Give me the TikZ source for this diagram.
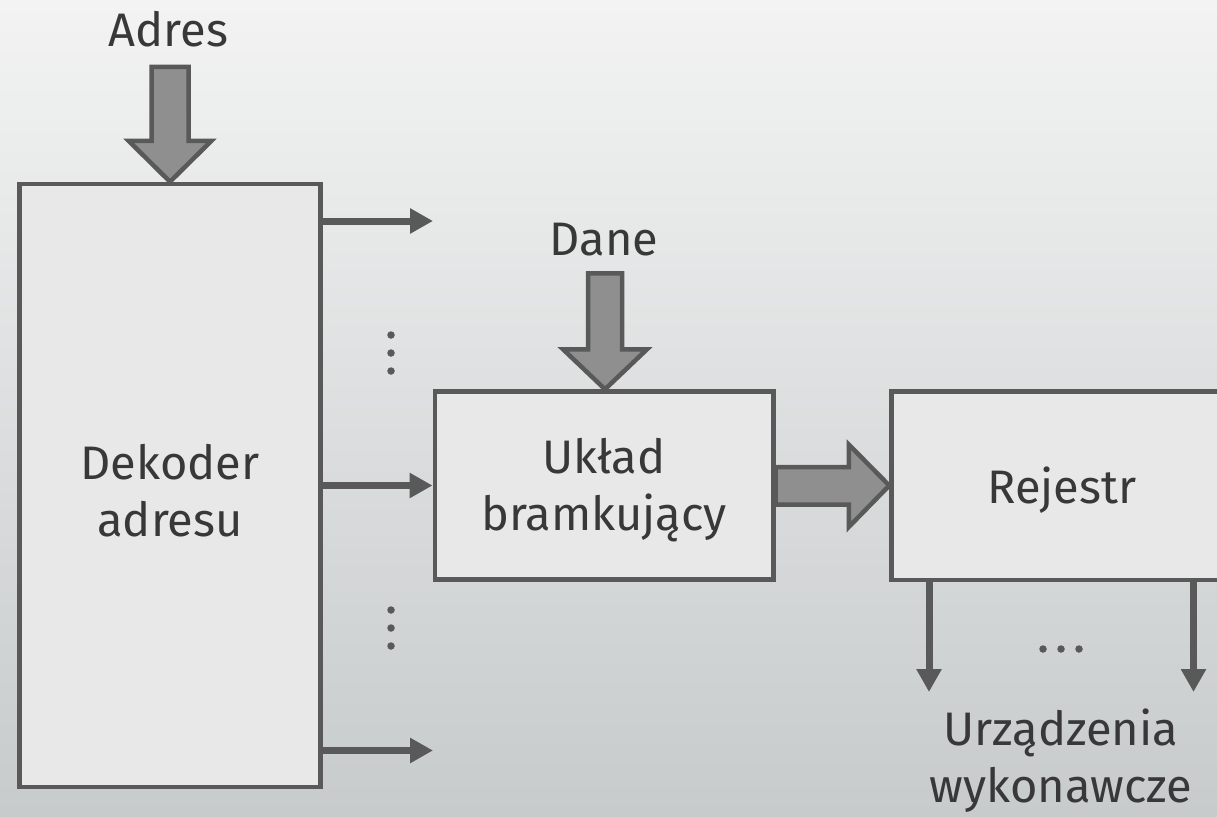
\documentclass[tikz,border=0pt]{standalone}
\usepackage{fontspec}
\setmainfont{Fira Sans}
\usetikzlibrary{arrows.meta,calc}
\definecolor{strokegray}{HTML}{595959}
\definecolor{boxfill}{HTML}{E8E8E8}
\definecolor{fatfill}{HTML}{8F8F8F}
\definecolor{txtgray}{HTML}{383838}
\definecolor{bgtop}{HTML}{F3F3F3}
\definecolor{bgmid}{HTML}{E6E7E7}
\definecolor{bgbot}{HTML}{C7CBCC}
\begin{document}
\begin{tikzpicture}[x=1pt,y=-1pt,
  every node/.style={text=txtgray,font=\fontsize{47}{57}\selectfont},
  blockbox/.style={draw=strokegray,fill=boxfill,line width=4.5pt,rectangle,inner sep=0pt},
  boxtext/.style={align=center,inner sep=0pt},
  fatarrow/.style={draw=strokegray,fill=fatfill,line width=4.5pt,line join=miter},
  thinarrow/.style={draw=strokegray,line width=7pt,-{Triangle[length=23pt,width=24pt]}},
  dotmark/.style={circle,fill=strokegray,inner sep=0pt,minimum size=7.5pt}]
\useasboundingbox (0,0) rectangle (1217,816);
\clip (0,0) rectangle (1217,816);
\shade[top color=bgtop,middle color=bgmid,bottom color=bgbot] (0,0) rectangle (1217,816);

% blocks
\node[blockbox,minimum width=301pt,minimum height=603pt] (dek) at (170,485.5) {};
\node[blockbox,minimum width=338.5pt,minimum height=188pt] (ukl) at (604,485.5) {};
\node[blockbox,minimum width=341pt,minimum height=188.5pt] (rej) at (1062,485.5) {};
\node[boxtext] (dektext) at ($(dek.center)+(0,5)$) {Dekoder\\adresu};
\node[boxtext] (ukltext) at ($(ukl.center)+(0,5)$) {Układ\\bramkujący};
\node[boxtext] (rejtext) at ($(rej.center)+(0,5)$) {Rejestr};

% labels
\node[anchor=base,inner sep=0pt] (adres) at (168.5,47) {Adres};
\node[anchor=base,inner sep=0pt] (dane) at (604,255) {Dane};
\node[anchor=north,inner sep=0pt,align=center] (urz) at (1061,709) {Urządzenia\\wykonawcze};

% fat arrows
\draw[fatarrow] (dek.north) -- ++(-41.5,-41) -- ++(23,0) -- ++(0,-74) -- ++(37,0) -- ++(0,74) -- ++(23,0) -- cycle;
\draw[fatarrow] ($(ukl.north)+(1,0)$) -- ++(-42,-40) -- ++(25,0) -- ++(0,-76) -- ++(34,0) -- ++(0,76) -- ++(25,0) -- cycle;
\draw[fatarrow] (rej.west) -- ++(-40.5,-41) -- ++(0,22.5) -- (ukl.east |- 0,467) -- (ukl.east |- 0,504.5) -- ($(rej.west)+(-40.5,19)$) -- ++(0,22.5) -- cycle;

% thin arrows from decoder
\coordinate (o1) at (433,221);
\coordinate (o3) at (433,750.5);
\draw[thinarrow] (dek.east |- o1) -- (o1);
\draw[thinarrow] (dek.east) -- (ukl.west);
\draw[thinarrow] (dek.east |- o3) -- (o3);

% outputs of register
\coordinate (d1) at (929,692);
\coordinate (d2) at (1193.5,692);
\draw[thinarrow] (rej.south -| d1) -- (d1);
\draw[thinarrow] (rej.south -| d2) -- (d2);

% dots
\node[dotmark] (v1) at (391,335) {};
\node[dotmark] (v2) at (391,353) {};
\node[dotmark] (v3) at (391,371) {};
\node[dotmark] (w1) at (391,610) {};
\node[dotmark] (w2) at (391,628) {};
\node[dotmark] (w3) at (391,646) {};
\node[dotmark] (h1) at (1043,649) {};
\node[dotmark] (h2) at (1061,649) {};
\node[dotmark] (h3) at (1079,649) {};
\end{tikzpicture}
\end{document}
